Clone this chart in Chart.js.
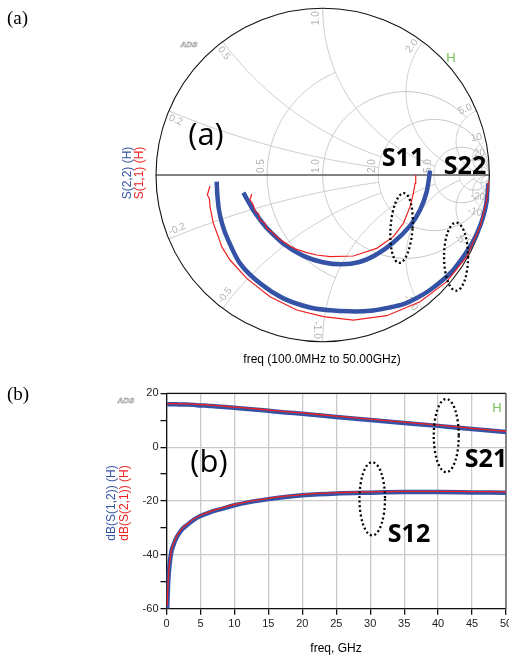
<!DOCTYPE html>
<html><head><meta charset="utf-8">
<script src="https://cdn.jsdelivr.net/npm/chart.js@4.4.1/dist/chart.umd.min.js"></script>
<style>
html,body{margin:0;padding:0;background:#fff;}
body{width:509px;height:656px;overflow:hidden;position:relative;font-family:"Liberation Sans",Arial,sans-serif;}
#wa{position:absolute;left:0;top:0;width:509px;height:370px;}
#wb{position:absolute;left:0;top:380px;width:509px;height:276px;}
.t{position:absolute;white-space:nowrap;line-height:1;transform:translate(-50%,-50%);}
.r{transform:translate(-50%,-50%) rotate(-90deg);}
.sans{font-family:"Open Sans","Noto Sans",sans-serif;}
.bold{font-family:"Open Sans","Noto Sans",sans-serif;font-weight:700;font-size:25px;color:#000;}
.serif{font-family:"Liberation Serif","Times New Roman",serif;font-size:19px;}
.ads{font-family:"Liberation Sans",Arial,sans-serif;font-style:italic;font-weight:bold;font-size:8px;color:#fff;-webkit-text-stroke:0.5px #888;}
.h{color:#77c25a;font-size:13px;}
</style>
</head><body>
<div id="wa"><canvas id="ca"></canvas></div>
<div id="wb"><canvas id="cb"></canvas></div>

<div class="serif" style="position:absolute;left:7px;top:8px;line-height:1;">(a)</div>
<div class="serif" style="position:absolute;left:7px;top:384px;line-height:1;">(b)</div>

<div class="t sans" style="left:206px;top:133px;font-size:31px;">(a)</div>
<div class="t bold" style="left:403px;top:156px;">S11</div>
<div class="t bold" style="left:465px;top:164px;">S22</div>
<div class="t" style="left:322px;top:359px;font-size:12px;">freq (100.0MHz to 50.00GHz)</div>
<div class="t r" style="left:127px;top:173px;font-size:12px;color:#3553a6;">S(2,2) (H)</div>
<div class="t r" style="left:139px;top:173px;font-size:12px;color:#ee2222;">S(1,1) (H)</div>
<div class="t ads" style="left:189px;top:45px;">ADS</div>
<div class="t h" style="left:451px;top:57px;">H</div>

<div class="t sans" style="left:209px;top:460px;font-size:31px;">(b)</div>
<div class="t bold" style="left:486px;top:457px;">S21</div>
<div class="t bold" style="left:409px;top:532px;">S12</div>
<div class="t" style="left:336px;top:648px;font-size:12px;">freq, GHz</div>
<div class="t r" style="left:111px;top:503px;font-size:12px;color:#3553a6;">dB(S(1,2)) (H)</div>
<div class="t r" style="left:124px;top:503px;font-size:12px;color:#ee2222;">dB(S(2,1)) (H)</div>
<div class="t ads" style="left:126px;top:401px;">ADS</div>
<div class="t h" style="left:497px;top:407px;">H</div>

<script>
// ---------------- DATA ----------------
// Smith chart traces: reflection coefficient (real, imag)
const s11SimRe = [-0.476,-0.446,-0.416,-0.376,-0.336,-0.236,-0.116,0.000,0.114,0.220,0.320,0.424,0.524,0.584,0.624,0.644];
const s11SimIm = [-0.106,-0.160,-0.212,-0.268,-0.318,-0.412,-0.485,-0.523,-0.536,-0.522,-0.478,-0.405,-0.305,-0.210,-0.100,0.026];
const s11MeasRe = [-0.426,-0.436,-0.416,-0.406,-0.386,-0.376,-0.346,-0.336,-0.306,-0.276,-0.236,-0.196,-0.156,-0.096,-0.036,0.044,0.184,0.324,0.424,0.484,0.524,0.544,0.554,0.558];
const s11MeasIm = [-0.114,-0.150,-0.180,-0.220,-0.230,-0.270,-0.290,-0.320,-0.340,-0.370,-0.400,-0.426,-0.446,-0.466,-0.480,-0.490,-0.486,-0.440,-0.370,-0.290,-0.190,-0.110,-0.050,0.000];
const s22SimRe = [-0.636,-0.632,-0.622,-0.604,-0.576,-0.496,-0.376,-0.236,-0.076,0.044,0.164,0.284,0.400,0.484,0.570,0.644,0.720,0.784,0.884,0.930,0.963,0.985,0.994];
const s22SimIm = [-0.040,-0.120,-0.210,-0.290,-0.370,-0.530,-0.650,-0.740,-0.795,-0.812,-0.818,-0.815,-0.795,-0.775,-0.735,-0.690,-0.630,-0.570,-0.430,-0.340,-0.250,-0.150,-0.050];
const s22MeasRe = [-0.676,-0.692,-0.680,-0.676,-0.666,-0.656,-0.626,-0.606,-0.556,-0.456,-0.316,-0.156,0.004,0.184,0.384,0.584,0.744,0.864,0.944,0.984,0.994];
const s22MeasIm = [-0.066,-0.120,-0.140,-0.190,-0.240,-0.290,-0.370,-0.430,-0.510,-0.620,-0.730,-0.810,-0.850,-0.870,-0.844,-0.760,-0.640,-0.490,-0.310,-0.150,-0.040];

// dB plot
const freqGHz = [0.1,0.2,0.3,0.5,0.75,1,1.5,2,2.5,3,4,5,6,7,8,10,12,15,17.5,20,25,30,35,40,45,50];
const s21SimDb  = [15.9,15.9,15.9,15.9,15.9,15.9,15.9,15.8,15.8,15.8,15.7,15.5,15.4,15.2,15.0,14.6,14.2,13.5,12.9,12.4,11.2,10.1,9.0,7.9,6.7,5.6];
const s21MeasDb = [16.2,16.2,16.2,16.2,16.2,16.2,16.2,16.1,16.1,16.1,16.0,15.8,15.7,15.5,15.3,14.9,14.5,13.8,13.2,12.7,11.5,10.4,9.3,8.2,7.0,5.9];
const s12SimDb  = [-60,-53,-48,-42.5,-38.5,-36.5,-33.5,-31.5,-30,-29,-27,-25.6,-24.6,-23.7,-23,-21.6,-20.5,-19.3,-18.5,-17.9,-17.2,-16.9,-16.7,-16.7,-16.8,-16.9];
const s12MeasDb = [-59,-52,-47.3,-42,-38,-36,-33.1,-31.2,-29.7,-28.7,-26.7,-25.3,-24.3,-23.4,-22.7,-21.3,-20.2,-19.0,-18.2,-17.6,-16.9,-16.6,-16.4,-16.4,-16.5,-16.6];
const xTickStep = 5;
const yTickStep = 10;

// Smith grid definition (normalised resistance / reactance, with clipping limits)
const rCircles = [[0.5,1],[1,5],[2,Infinity],[5,Infinity],[10,Infinity],[20,Infinity]];
const xArcs = [[0.2,2],[0.5,2],[1,5],[2,10],[5,20],[10,Infinity],[20,Infinity]];
const rLabels = [0.5,1,2,5];
const xLabels = [0.2,0.5,1,2,5,10,20];

// Annotation ellipses (in data units)
const smithEllipses = [{cx:0.473,cy:-0.318,rx:0.066,ry:0.21,rot:0.07},{cx:0.80,cy:-0.49,rx:0.072,ry:0.204,rot:0.0}];
const dbEllipses = [{cx:41.2,cy:4.3,rx:1.84,ry:13.6},{cx:30.3,cy:-19.2,rx:1.88,ry:13.6}];

const BLUE = '#3553a6', RED = '#ee2222';
const pts = (xs, ys) => xs.map((x,i)=>({x:x, y:ys[i]}));

// ---------------- SMITH CHART ----------------
function gam(r, x){ const c=r+1, d=c*c+x*x; return [((r-1)*c + x*x)/d, 2*x/d]; }

function drawEllipse(ctx, sx, sy, e){
  const cx=sx.getPixelForValue(e.cx), cy=sy.getPixelForValue(e.cy);
  const rx=Math.abs(sx.getPixelForValue(e.cx+e.rx)-cx), ry=Math.abs(sy.getPixelForValue(e.cy+e.ry)-cy);
  ctx.save();
  ctx.strokeStyle='#000'; ctx.lineWidth=2.3; ctx.setLineDash([2,2.6]);
  ctx.beginPath(); ctx.ellipse(cx,cy,rx,ry,e.rot||0,0,Math.PI*2); ctx.stroke();
  ctx.restore();
}

const smithGrid = {
  id:'smithGrid',
  beforeDatasetsDraw(chart){
    const ctx=chart.ctx, sx=chart.scales.x, sy=chart.scales.y;
    const P=(g)=>[sx.getPixelForValue(g[0]), sy.getPixelForValue(g[1])];
    const c0=P([0,0]); const R=sx.getPixelForValue(1)-c0[0];
    ctx.save();
    ctx.beginPath(); ctx.arc(c0[0],c0[1],R,0,Math.PI*2); ctx.clip();
    ctx.strokeStyle='#c4c4c4'; ctx.lineWidth=1;
    const N=300;
    rCircles.forEach(([r,X])=>{
      const a=Math.atan(X);
      ctx.beginPath();
      for(let i=0;i<=N;i++){ const t=-a+2*a*i/N; const p=P(gam(r,Math.tan(t))); i?ctx.lineTo(p[0],p[1]):ctx.moveTo(p[0],p[1]); }
      ctx.stroke();
    });
    xArcs.forEach(([x,Rm])=>{
      const a=Math.atan(Rm);
      [x,-x].forEach(xx=>{
        ctx.beginPath();
        for(let i=0;i<=N;i++){ const t=a*i/N; const p=P(gam(Math.tan(t),xx)); i?ctx.lineTo(p[0],p[1]):ctx.moveTo(p[0],p[1]); }
        ctx.stroke();
      });
    });
    ctx.restore();
    // real axis
    ctx.save();
    ctx.strokeStyle='#5a5a5a'; ctx.lineWidth=1.4;
    ctx.beginPath(); ctx.moveTo(c0[0]-R,c0[1]); ctx.lineTo(c0[0]+R,c0[1]); ctx.stroke();
    // outer circle
    ctx.strokeStyle='#111'; ctx.lineWidth=1.1;
    ctx.beginPath(); ctx.arc(c0[0],c0[1],R,0,Math.PI*2); ctx.stroke();
    // labels
    ctx.fillStyle='#b2b2b2'; ctx.font='10px "Liberation Sans", Arial, sans-serif';
    rLabels.forEach(r=>{
      const p=P(gam(r,0));
      ctx.save(); ctx.translate(p[0]-1,c0[1]-2); ctx.rotate(-Math.PI/2);
      ctx.textAlign='left'; ctx.textBaseline='bottom';
      ctx.fillText(r.toFixed(1),0,0); ctx.restore();
    });
    xLabels.forEach(x=>{
      [x,-x].forEach(xx=>{
        const g=gam(0,xx); const al=Math.atan2(g[1],g[0]);
        const p=P([g[0]*(1-3/R), g[1]*(1-3/R)]);
        let rot=-al, outward=true;
        if(Math.cos(al)<-1e-6){ rot=-al+Math.PI; outward=false; }
        if(Math.abs(Math.cos(al))<1e-6){ rot = xx>0 ? -Math.PI/2 : Math.PI/2; outward = true; }
        const txt=(xx<0?'-':'')+(Math.abs(xx)>=10?String(Math.abs(xx)):Math.abs(xx).toFixed(1));
        ctx.save(); ctx.translate(p[0],p[1]); ctx.rotate(rot);
        ctx.textAlign= outward?'right':'left';
        const above = ((xx>0)===outward);
        ctx.textBaseline= above?'bottom':'top';
        ctx.fillText(txt,0,above?-1:1); ctx.restore();
      });
    });
    ctx.restore();
  },
  afterDatasetsDraw(chart){
    smithEllipses.forEach(e=>drawEllipse(chart.ctx, chart.scales.x, chart.scales.y, e));
  }
};

new Chart(document.getElementById('ca'),{
  type:'scatter',
  data:{datasets:[
    {label:'S(1,1) meas', data:pts(s11MeasRe,s11MeasIm), showLine:true, borderColor:RED, borderWidth:1.2, pointRadius:0, fill:false},
    {label:'S(2,2) meas', data:pts(s22MeasRe,s22MeasIm), showLine:true, borderColor:RED, borderWidth:1.2, pointRadius:0, fill:false},
    {label:'S(1,1)', data:pts(s11SimRe,s11SimIm), showLine:true, borderColor:BLUE, borderWidth:4.5, pointRadius:0, fill:false, tension:0.3},
    {label:'S(2,2)', data:pts(s22SimRe,s22SimIm), showLine:true, borderColor:BLUE, borderWidth:4.5, pointRadius:0, fill:false, tension:0.3}
  ]},
  options:{
    responsive:true, maintainAspectRatio:false, animation:false,
    layout:{autoPadding:false, padding:{left:156, right:19.6, top:8.3, bottom:28.3}},
    plugins:{legend:{display:false}, tooltip:{enabled:false}},
    scales:{
      x:{type:'linear', min:-1, max:1, display:false},
      y:{type:'linear', min:-1, max:1, display:false}
    }
  },
  plugins:[smithGrid]
});

// ---------------- dB CHART ----------------
const frame = {
  id:'frame',
  beforeDatasetsDraw(chart){
    const a=chart.chartArea, ctx=chart.ctx;
    ctx.save();
    ctx.strokeStyle='#111'; ctx.lineWidth=1.3;
    ctx.beginPath(); ctx.moveTo(a.left,a.top); ctx.lineTo(a.right,a.top); ctx.stroke();
    ctx.strokeStyle='#555';
    ctx.beginPath(); ctx.moveTo(a.right,a.top); ctx.lineTo(a.right,a.bottom); ctx.stroke();
    ctx.restore();
  },
  afterDatasetsDraw(chart){
    dbEllipses.forEach(e=>drawEllipse(chart.ctx, chart.scales.x, chart.scales.y, e));
  }
};
const tickFont={size:11, family:'"Liberation Sans", Arial, sans-serif'};
new Chart(document.getElementById('cb'),{
  type:'line',
  data:{datasets:[
    {label:'dB(S(2,1))', data:pts(freqGHz,s21MeasDb), borderColor:RED, borderWidth:1.3, pointRadius:0, cubicInterpolationMode:'monotone'},
    {label:'dB(S(1,2)) meas', data:pts(freqGHz,s12MeasDb), borderColor:RED, borderWidth:1.3, pointRadius:0, cubicInterpolationMode:'monotone'},
    {label:'S21', data:pts(freqGHz,s21SimDb), borderColor:BLUE, borderWidth:4.5, pointRadius:0, cubicInterpolationMode:'monotone'},
    {label:'dB(S(1,2))', data:pts(freqGHz,s12SimDb), borderColor:BLUE, borderWidth:4.5, pointRadius:0, cubicInterpolationMode:'monotone'}
  ]},
  options:{
    responsive:true, maintainAspectRatio:false, animation:false,
    layout:{autoPadding:false, padding:{left:0, right:3, top:13.3, bottom:0}},
    plugins:{legend:{display:false}, tooltip:{enabled:false}},
    scales:{
      x:{type:'linear', min:0, max:50,
        ticks:{stepSize:xTickStep, autoSkip:false, maxRotation:0, color:'#222', font:tickFont, padding:3},
        grid:{color:'#cacaca', lineWidth:1.3, tickColor:'#111', tickLength:6},
        border:{color:'#111', width:1.3},
        afterFit(s){ s.height=47.3; s.paddingLeft=0; s.paddingRight=0; }
      },
      y:{type:'linear', min:-60, max:20,
        ticks:{stepSize:yTickStep, autoSkip:false, color:'#222', font:tickFont, padding:2,
          callback:(v)=> (v%20===0 ? String(v) : '')},
        grid:{color:(c)=> (c.tick && c.tick.value%20===0 ? '#cacaca' : 'rgba(0,0,0,0)'), lineWidth:1.3, tickColor:'#111', tickLength:6},
        border:{color:'#111', width:1.3},
        afterFit(s){ s.width=166.5; s.paddingTop=0; s.paddingBottom=0; }
      }
    }
  },
  plugins:[frame]
});
</script>
</body></html>
